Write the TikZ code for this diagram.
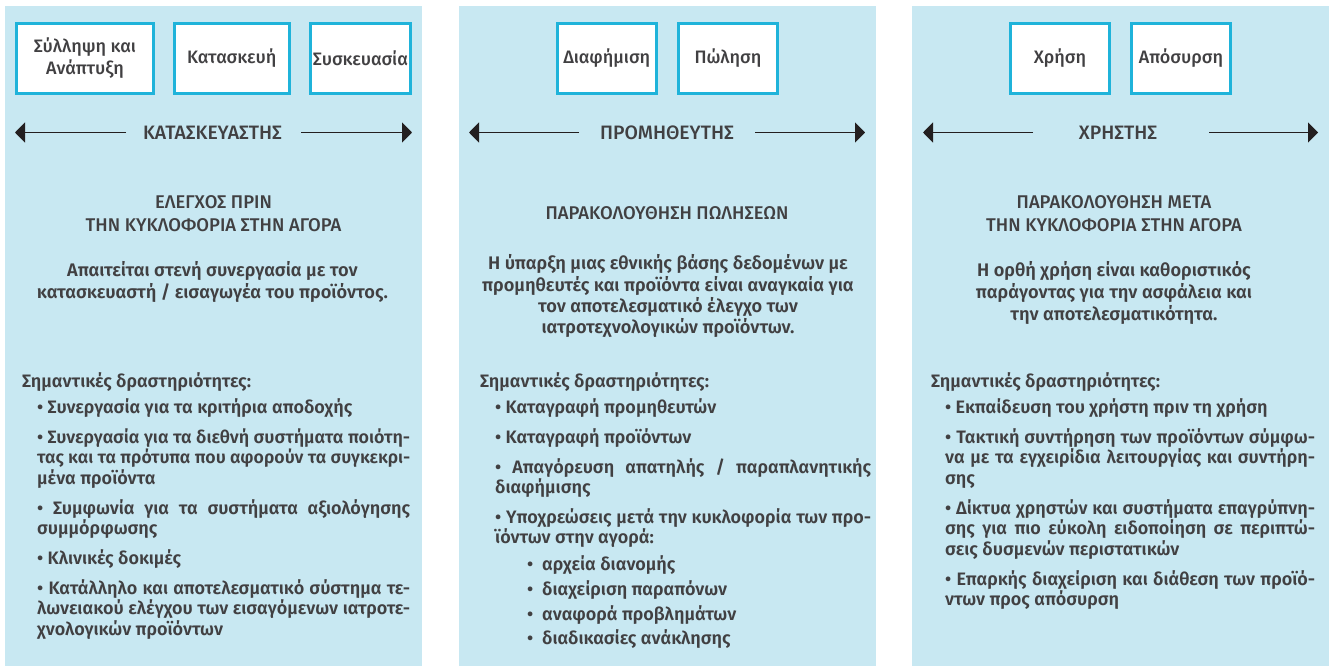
\documentclass[tikz,border=0pt]{standalone}
\usepackage{fontspec}
\usepackage{graphicx}
\setmainfont{Fira Sans}
\IfFontExistsTF{Fira Sans Medium}{\newfontfamily\fmed{Fira Sans Medium}}{\newfontfamily\fmed{Fira Sans}}
\IfFontExistsTF{Fira Sans SemiBold}{\newfontfamily\fsemi{Fira Sans SemiBold}}{\newfontfamily\fsemi{Fira Sans Bold}}
\usetikzlibrary{arrows.meta}
\definecolor{panelc}{HTML}{C8E8F2}
\definecolor{boxc}{HTML}{1FB3DA}
\definecolor{txt}{HTML}{414042}
\definecolor{arrc}{HTML}{231F20}
\newlength\jlw
\newcommand\fitj[2]{\settowidth\jlw{#2}\ifdim\jlw>#1\relax\resizebox{#1}{!}{#2}\else\makebox[#1][s]{#2}\fi}
\newcommand\JL[4]{\node[bd] (#1) at (#2) {\fitj{#3pt}{#4}};}
\newcommand\NL[3]{\node[bd] (#1) at (#2) {#3};}
\begin{document}
\begin{tikzpicture}[x=1pt,y=-1pt,
  panelbg/.style={fill=panelc, draw=none},
  stagebox/.style={draw=boxc, line width=3pt, fill=white, inner sep=0pt,
    minimum height=70pt, align=center, text=txt,
    font=\fmed\fontsize{18}{22}\selectfont},
  arr/.style={draw=arrc, line width=1.8pt, -{Triangle[length=10pt,width=20pt]}},
  role/.style={text=txt, inner sep=0pt, anchor=base, font=\fmed\fontsize{19.4}{19}\selectfont},
  hd/.style={text=txt, inner sep=0pt, anchor=base, font=\fmed\fontsize{18.4}{19}\selectfont},
  ctr/.style={text=txt, inner sep=0pt, anchor=base, font=\fsemi\fontsize{18.2}{17}\selectfont},
  bd/.style={text=txt, inner sep=0pt, anchor=base west, font=\fsemi\fontsize{18}{17}\selectfont}]
\fill[white] (0,0) rectangle (1331,666);
\useasboundingbox (0,0) rectangle (1331,666);
% panels
\fill[panelbg] (5,6) rectangle (422,665.5);
\fill[panelbg] (459,6) rectangle (876,665.5);
\fill[panelbg] (912,6) rectangle (1329,665.5);
% stage boxes
\node[stagebox, minimum width=137pt] (b1) at (85,58.3) {Σύλληψη και\\Ανάπτυξη};
\node[stagebox, minimum width=114.5pt] (b2) at (231.75,58.3) {Κατασκευή};
\node[stagebox, minimum width=100pt] (b3) at (360.5,58.3) {Συσκευασία};
\node[stagebox, minimum width=98.5pt] (b4) at (606.75,58.3) {Διαφήμιση};
\node[stagebox, minimum width=99pt] (b5) at (728,58.3) {Πώληση};
\node[stagebox, minimum width=99pt] (b6) at (1060,58.3) {Χρήση};
\node[stagebox, minimum width=99pt] (b7) at (1181,58.3) {Απόσυρση};
% role arrows
\node[role] (r1) at (212.5,140) {ΚΑΤΑΣΚΕΥΑΣΤΗΣ};
\node[role] (r2) at (667,140) {ΠΡΟΜΗΘΕΥΤΗΣ};
\node[role] (r3) at (1118,140) {ΧΡΗΣΤΗΣ};
\coordinate (r1l) at (126,132.5); \coordinate (r1lt) at (15,132.5);
\coordinate (r1r) at (301,132.5); \coordinate (r1rt) at (412,132.5);
\coordinate (r2l) at (579,132.5); \coordinate (r2lt) at (469,132.5);
\coordinate (r2r) at (755,132.5); \coordinate (r2rt) at (865,132.5);
\coordinate (r3l) at (1033,132.5); \coordinate (r3lt) at (923,132.5);
\coordinate (r3r) at (1209,132.5); \coordinate (r3rt) at (1318,132.5);
\draw[arr] (r1l) -- (r1lt); \draw[arr] (r1r) -- (r1rt);
\draw[arr] (r2l) -- (r2lt); \draw[arr] (r2r) -- (r2rt);
\draw[arr] (r3l) -- (r3lt); \draw[arr] (r3r) -- (r3rt);
% panel 1 text
\node[hd] (h1a) at (213.5,208.3) {ΕΛΕΓΧΟΣ ΠΡΙΝ};
\node[hd] (h1b) at (213.5,231.7) {ΤΗΝ ΚΥΚΛΟΦΟΡΙΑ ΣΤΗΝ ΑΓΟΡΑ};
\node[ctr] (c1a) at (212.5,276) {Απαιτείται στενή συνεργασία με τον};
\node[ctr] (c1b) at (212.5,298) {κατασκευαστή / εισαγωγέα του προϊόντος.};
\NL{s1}{22,387}{Σημαντικές δραστηριότητες:}
\NL{p1a}{37,413}{• Συνεργασία για τα κριτήρια αποδοχής}
\JL{p1b}{37,443}{373}{• Συνεργασία για τα διεθνή συστήματα ποιότη-}
\JL{p1c}{37,463.5}{373}{τας και τα πρότυπα που αφορούν τα συγκεκρι-}
\NL{p1d}{37,484}{μένα προϊόντα}
\JL{p1e}{37,514}{373}{• Συμφωνία για τα συστήματα αξιολόγησης}
\NL{p1f}{37,534.5}{συμμόρφωσης}
\NL{p1g}{37,564}{• Κλινικές δοκιμές}
\JL{p1h}{37,594}{373}{• Κατάλληλο και αποτελεσματικό σύστημα τε-}
\JL{p1i}{37,614.5}{373}{λωνειακού ελέγχου των εισαγόμενων ιατροτε-}
\NL{p1j}{37,635}{χνολογικών προϊόντων}
% panel 2 text
\node[hd] (h2a) at (667,219.3) {ΠΑΡΑΚΟΛΟΥΘΗΣΗ ΠΩΛΗΣΕΩΝ};
\node[ctr] (c2a) at (668,269) {Η ύπαρξη μιας εθνικής βάσης δεδομένων με};
\node[ctr] (c2b) at (668,291) {προμηθευτές και προϊόντα είναι αναγκαία για};
\node[ctr] (c2c) at (668,312) {τον αποτελεσματικό έλεγχο των};
\node[ctr] (c2d) at (668,333) {ιατροτεχνολογικών προϊόντων.};
\NL{s2}{480,387}{Σημαντικές δραστηριότητες:}
\NL{p2a}{495,413}{• Καταγραφή προμηθευτών}
\NL{p2b}{495,443}{• Καταγραφή προϊόντων}
\JL{p2c}{495,473}{376}{• Απαγόρευση απατηλής / παραπλανητικής}
\NL{p2d}{495,493}{διαφήμισης}
\JL{p2e}{495,523}{376}{• Υποχρεώσεις μετά την κυκλοφορία των προ-}
\NL{p2f}{495,543}{ϊόντων στην αγορά:}
\NL{p2g}{527,570}{\makebox[15pt][l]{•}αρχεία διανομής}
\NL{p2h}{527,595}{\makebox[15pt][l]{•}διαχείριση παραπόνων}
\NL{p2i}{527,620}{\makebox[15pt][l]{•}αναφορά προβλημάτων}
\NL{p2j}{527,644.5}{\makebox[15pt][l]{•}διαδικασίες ανάκλησης}
% panel 3 text
\node[hd] (h3a) at (1114,208.3) {ΠΑΡΑΚΟΛΟΥΘΗΣΗ ΜΕΤΑ};
\node[hd] (h3b) at (1114,231.7) {ΤΗΝ ΚΥΚΛΟΦΟΡΙΑ ΣΤΗΝ ΑΓΟΡΑ};
\node[ctr] (c3a) at (1114,276) {Η ορθή χρήση είναι καθοριστικός};
\node[ctr] (c3b) at (1114,298) {παράγοντας για την ασφάλεια και};
\node[ctr] (c3c) at (1114,320.5) {την αποτελεσματικότητα.};
\NL{s3}{931,387}{Σημαντικές δραστηριότητες:}
\NL{p3a}{945,413}{• Εκπαίδευση του χρήστη πριν τη χρήση}
\JL{p3b}{945,443}{370}{• Τακτική συντήρηση των προϊόντων σύμφω-}
\JL{p3c}{945,463.5}{370}{να με τα εγχειρίδια λειτουργίας και συντήρη-}
\NL{p3d}{945,484}{σης}
\JL{p3e}{945,514}{370}{• Δίκτυα χρηστών και συστήματα επαγρύπνη-}
\JL{p3f}{945,534.5}{370}{σης για πιο εύκολη ειδοποίηση σε περιπτώ-}
\NL{p3g}{945,555}{σεις δυσμενών περιστατικών}
\JL{p3h}{945,585}{370}{• Επαρκής διαχείριση και διάθεση των προϊό-}
\NL{p3i}{945,605.5}{ντων προς απόσυρση}
\end{tikzpicture}
\end{document}
